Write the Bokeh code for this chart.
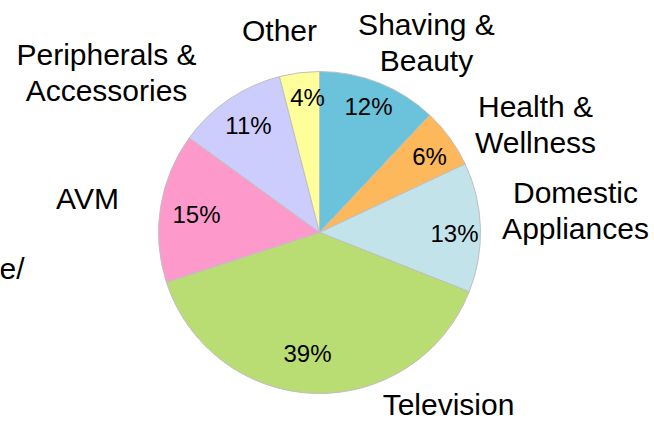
import math
from bokeh.plotting import figure
from bokeh.models import Range1d, ColumnDataSource
from bokeh.core.properties import value
from bokeh.embed import file_html
from bokeh.resources import INLINE

# ---- data ----
categories = ["Shaving &\nBeauty", "Health &\nWellness", "Domestic\nAppliances",
              "Television", "AVM", "Peripherals &\nAccessories", "Other"]
shares = [12, 6, 13, 39, 15, 11, 4]
pct_labels = ["12%", "6%", "13%", "39%", "15%", "11%", "4%"]
colors = ["#6AC3DA", "#FDB85C", "#C2E3EA", "#B9DD72", "#FD99CB", "#CCCCFD", "#FEFE9A"]

# ---- layout (image pixel coords, y down) ----
W, H = 654, 423
cx_img, cy_img, R = 319, 232, 161
cat_label_img = [(426, 42), (535, 124), (575, 210), (448, 404), (87, 198), (106, 72), (279, 30)]
pct_label_img = [(368, 106), (429, 156), (454, 233), (307, 353), (196, 214), (248, 125), (307, 97)]

def fy(y_img):
    return H - y_img

total = float(sum(shares))
starts, ends = [], []
cum = 0.0
for s in shares:
    starts.append(math.pi / 2 - 2 * math.pi * (cum + s) / total)
    ends.append(math.pi / 2 - 2 * math.pi * cum / total)
    cum += s

cx, cy = cx_img, fy(cy_img)

p = figure(width=W, height=H, output_backend="svg", toolbar_location=None,
           x_range=Range1d(0, W), y_range=Range1d(0, H),
           min_border=0, outline_line_color=None)
p.axis.visible = False
p.grid.visible = False
p.background_fill_color = "white"
p.border_fill_color = "white"

src = ColumnDataSource(dict(start=starts, end=ends, color=colors))
p.wedge(x=cx, y=cy, radius=R, start_angle="start", end_angle="end",
        fill_color="color", line_color="#BFBFBF", line_width=1, source=src)

# percentage labels
p.text(x=[c[0] for c in pct_label_img], y=[fy(c[1]) for c in pct_label_img],
       text=pct_labels, text_align="center", text_baseline="middle",
       text_font=value("Liberation Sans"), text_font_size="24px", text_color="#000000")

# category labels
p.text(x=[c[0] for c in cat_label_img], y=[fy(c[1]) for c in cat_label_img],
       text=categories, text_align="center", text_baseline="middle",
       text_font=value("Liberation Sans"), text_font_size="30px", text_color="#000000",
       text_line_height=1.08)

# partial label at the left edge
p.text(x=[24], y=[fy(268)], text=["e/"], text_align="right", text_baseline="alphabetic",
       text_font=value("Liberation Sans"), text_font_size="30px", text_color="#000000")

open("out.html", "w").write(file_html(p, INLINE))
